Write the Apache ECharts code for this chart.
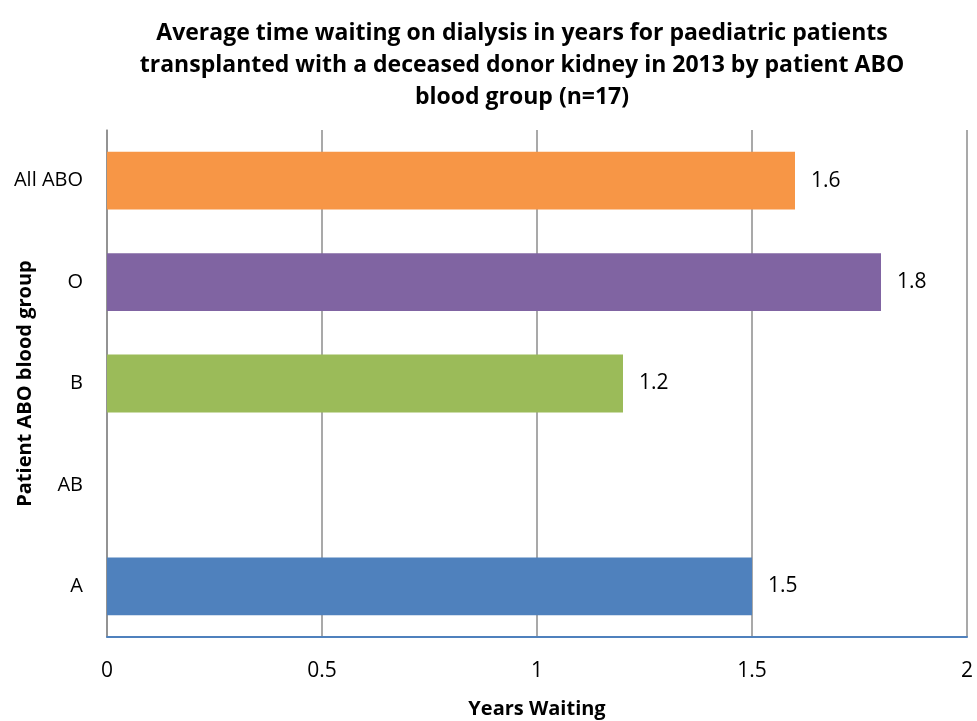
<!DOCTYPE html>
<html>
<head>
<meta charset="utf-8">
<script src="https://cdn.jsdelivr.net/npm/echarts@6/dist/echarts.min.js"></script>
<style>
  html, body { margin: 0; padding: 0; background: #fff; }
  #chart { width: 977px; height: 721px; }
</style>
</head>
<body>
<div id="chart"></div>
<script>
// data, bottom to top
var categories = ["A", "AB", "B", "O", "All ABO"];
var yearsWaiting = [1.5, null, 1.2, 1.8, 1.6];
var xTicks = [0, 0.5, 1, 1.5, 2];

var barColors = ["#4F81BD", "#C0504D", "#9BBB59", "#8064A2", "#F79646"];
var font = "'Open Sans', sans-serif";

var myChart = echarts.init(document.getElementById("chart"));

var option = {
  backgroundColor: "#fff",
  title: {
    text: "Average time waiting on dialysis in years for paediatric patients\ntransplanted with a deceased donor kidney in 2013 by patient ABO\nblood group (n=17)",
    left: 517,
    top: 12,
    textAlign: "center",
    textStyle: {
      fontFamily: font,
      fontSize: 23,
      fontWeight: "bold",
      lineHeight: 32,
      color: "#000"
    }
  },
  grid: {
    left: 107,
    right: 10,
    top: 130,
    bottom: 84,
    outerBoundsMode: "none"
  },
  xAxis: {
    type: "value",
    min: xTicks[0],
    max: xTicks[xTicks.length - 1],
    interval: 0.5,
    name: "Years Waiting",
    nameLocation: "middle",
    nameGap: 62,
    nameTextStyle: {
      fontFamily: font,
      fontSize: 20,
      fontWeight: "bold",
      color: "#000"
    },
    axisLine: { show: true, lineStyle: { color: "#4F81BD", width: 2 } },
    axisTick: { show: false },
    axisLabel: {
      fontFamily: font,
      fontSize: 21,
      color: "#000",
      margin: 24,
      formatter: function (v) { return String(v); }
    },
    splitLine: { show: true, lineStyle: { color: "#8C8C8C", width: 1.5 } }
  },
  yAxis: {
    type: "category",
    data: categories,
    name: "Patient ABO blood group",
    nameLocation: "middle",
    nameGap: 72,
    nameRotate: 90,
    nameMoveOverlap: false,
    nameTextStyle: {
      fontFamily: font,
      fontSize: 20,
      fontWeight: "bold",
      color: "#000"
    },
    axisLine: { show: true, lineStyle: { color: "#8C8C8C", width: 1.5 } },
    axisTick: { show: false },
    axisLabel: {
      fontFamily: font,
      fontSize: 20,
      color: "#000",
      margin: 24
    },
    splitLine: { show: false }
  },
  series: [
    {
      type: "bar",
      barCategoryGap: "43%",
      data: yearsWaiting.map(function (v, i) {
        return { value: v, itemStyle: { color: barColors[i] } };
      }),
      label: {
        show: true,
        position: "right",
        distance: 16,
        fontFamily: font,
        fontSize: 21,
        color: "#000",
        formatter: function (p) { return p.value.toFixed(1); }
      }
    }
  ]
};

myChart.setOption(option);
</script>
</body>
</html>
